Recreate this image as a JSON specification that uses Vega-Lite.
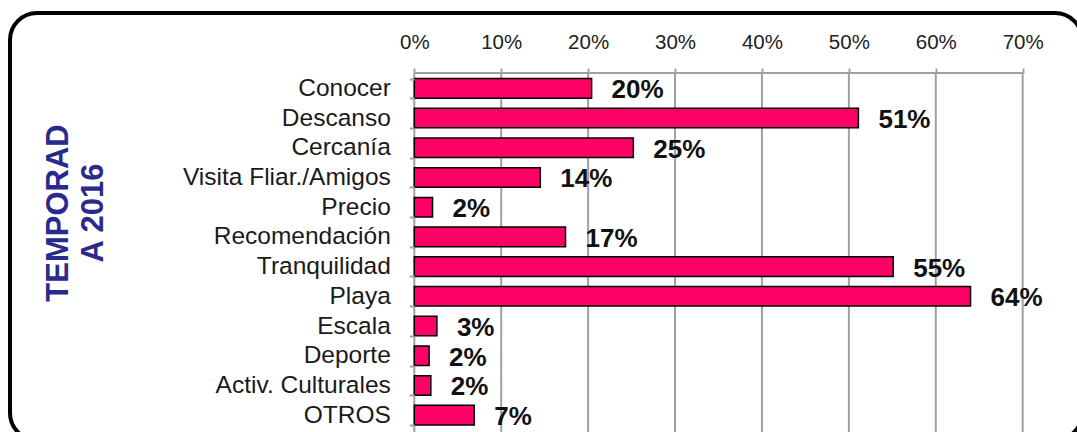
{
  "$schema": "https://vega.github.io/schema/vega-lite/v6.json",
  "width": 1067,
  "height": 419,
  "autosize": {"type": "none"},
  "padding": {"left": 10, "top": 13, "right": 0, "bottom": 0},
  "background": "white",
  "config": {
    "view": {"stroke": null},
    "font": "Liberation Sans"
  },
  "datasets": {
    "motivos": [
      {"motivo": "Conocer", "value": 20.4, "label": "20%"},
      {"motivo": "Descanso", "value": 51.1, "label": "51%"},
      {"motivo": "Cercanía", "value": 25.2, "label": "25%"},
      {"motivo": "Visita Fliar./Amigos", "value": 14.5, "label": "14%"},
      {"motivo": "Precio", "value": 2.1, "label": "2%"},
      {"motivo": "Recomendación", "value": 17.4, "label": "17%"},
      {"motivo": "Tranquilidad", "value": 55.1, "label": "55%"},
      {"motivo": "Playa", "value": 64.0, "label": "64%"},
      {"motivo": "Escala", "value": 2.6, "label": "3%"},
      {"motivo": "Deporte", "value": 1.7, "label": "2%"},
      {"motivo": "Activ. Culturales", "value": 1.9, "label": "2%"},
      {"motivo": "OTROS", "value": 6.9, "label": "7%"}
    ],
    "grid": [{"v": 0}, {"v": 10}, {"v": 20}, {"v": 30}, {"v": 40}, {"v": 50}, {"v": 60}, {"v": 70}]
  },
  "layer": [
    {
      "data": {"values": [{"a": 1}]},
      "mark": {"type": "rect", "fill": "white", "fillOpacity": 0, "stroke": "black", "strokeWidth": 4, "cornerRadius": 27, "clip": false},
      "encoding": {
        "x": {"datum": -46.52, "type": "quantitative"},
        "x2": {"datum": 76.83},
        "y": {"datum": "Conocer", "type": "nominal", "bandPosition": -3.344},
        "y2": {"datum": "OTROS", "bandPosition": 1.773}
      }
    },
    {
      "data": {"name": "grid"},
      "mark": {"type": "rule", "color": "#A0A0A0", "strokeWidth": 2, "clip": false},
      "encoding": {
        "x": {"field": "v", "type": "quantitative"},
        "y": {"datum": "Conocer", "type": "nominal", "bandPosition": -0.28},
        "y2": {"datum": "OTROS", "bandPosition": 1.8}
      }
    },
    {
      "data": {"values": [{"a": 1}]},
      "mark": {"type": "rule", "color": "#A0A0A0", "strokeWidth": 2},
      "encoding": {
        "x": {"datum": 0, "type": "quantitative"},
        "x2": {"datum": 70},
        "y": {"datum": "Conocer", "type": "nominal", "bandPosition": -0.28}
      }
    },
    {
      "data": {"name": "motivos"},
      "mark": {"type": "bar", "fill": "#FF0066", "stroke": "black", "strokeWidth": 1.5},
      "encoding": {
        "x": {
          "field": "value",
          "type": "quantitative",
          "scale": {"domain": [-46.52, 76.25], "nice": false, "zero": false},
          "axis": {
            "orient": "top",
            "offset": -60,
            "values": [0, 10, 20, 30, 40, 50, 60, 70],
            "labelExpr": "datum.value + '%'",
            "domain": false,
            "grid": false,
            "ticks": true,
            "tickSize": 5,
            "tickColor": "#A0A0A0",
            "tickWidth": 2,
            "labelFontSize": 20.5,
            "labelColor": "#222222",
            "labelPadding": 16,
            "title": null
          }
        },
        "y": {
          "field": "motivo",
          "type": "nominal",
          "sort": null,
          "scale": {
            "domain": ["Conocer", "Descanso", "Cercanía", "Visita Fliar./Amigos", "Precio", "Recomendación", "Tranquilidad", "Playa", "Escala", "Deporte", "Activ. Culturales", "OTROS"],
            "range": [60.5, 417],
            "paddingInner": 0.34,
            "paddingOuter": 0.17,
            "round": false
          },
          "axis": {
            "orient": "left",
            "offset": -404.3,
            "domain": false,
            "grid": false,
            "ticks": true,
            "tickBand": "extent",
            "tickSize": 5,
            "tickColor": "#A0A0A0",
            "tickWidth": 2,
            "labelFontSize": 24.5,
            "labelColor": "#1a1a1a",
            "labelPadding": 19,
            "labelLimit": 400,
            "title": ["TEMPORAD", "A 2016"],
            "titleX": -347.3,
            "titleY": 199.5,
            "titleAngle": 270,
            "titleAlign": "center",
            "titleBaseline": "alphabetic",
            "titleFontSize": 31,
            "titleFontWeight": "bold",
            "titleColor": "#2A2A8C",
            "titleLineHeight": 35
          }
        }
      }
    },
    {
      "data": {"name": "motivos"},
      "mark": {"type": "text", "align": "left", "baseline": "middle", "dx": 20, "dy": 2, "fontSize": 26, "fontWeight": "bold", "color": "#111111"},
      "encoding": {
        "x": {"field": "value", "type": "quantitative"},
        "y": {"field": "motivo", "type": "nominal", "sort": null},
        "text": {"field": "label"}
      }
    }
  ]
}
